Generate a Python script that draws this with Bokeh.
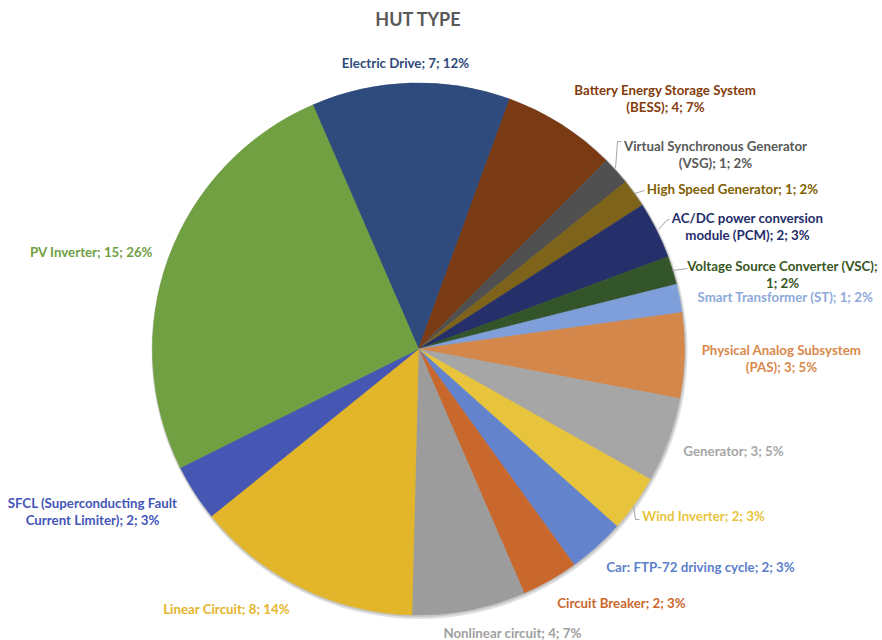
import math
from bokeh.plotting import figure
from bokeh.models import ColumnDataSource
from bokeh.core.properties import value
from bokeh.embed import file_html
from bokeh.resources import INLINE

# ---------------- data ----------------
categories = [
    "Electric Drive",
    "Battery Energy Storage System (BESS)",
    "Virtual Synchronous Generator (VSG)",
    "High Speed Generator",
    "AC/DC power conversion module (PCM)",
    "Voltage Source Converter (VSC)",
    "Smart Transformer (ST)",
    "Physical Analog Subsystem (PAS)",
    "Generator",
    "Wind Inverter",
    "Car: FTP-72 driving cycle",
    "Circuit Breaker",
    "Nonlinear circuit",
    "Linear Circuit",
    "SFCL (Superconducting Fault Current Limiter)",
    "PV Inverter",
]
counts = [7, 4, 1, 1, 2, 1, 1, 3, 3, 2, 2, 2, 4, 8, 2, 15]
title_text = "HUT TYPE"

# ---------------- styles / layout ----------------
colors = [
    "#2F4A7C", "#7A3A14", "#505050", "#7E631B", "#25306A", "#34552A",
    "#7F9FDA", "#D4874B", "#A6A6A6", "#E8C43C", "#6384CC", "#C9682D",
    "#9C9C9C", "#E2B52A", "#4556B3", "#70A041",
]
label_colors = [
    "#2F4A7C", "#843C0C", "#595959", "#7F6000", "#1F2D6A", "#375623",
    "#8EA9DB", "#D9894C", "#A6A6A6", "#E8C43C", "#5B7FCC", "#C9682D",
    "#A0A0A0", "#E3B52B", "#4456B8", "#70A044",
]
# words on first line (0 = single line)
label_break = [0, 4, 3, 0, 3, 4, 0, 3, 0, 0, 0, 0, 0, 0, 3, 0]
# label centre positions in page pixels (x, y of first line)
label_pos = [
    (405, 62), (665, 89), (715, 145), (732, 188), (747, 217), (782, 265),
    (785, 296), (781, 349), (733, 450), (703, 515), (700, 566), (621, 602),
    (512, 632), (226, 608), (92, 502), (91, 251),
]
line_gap = 17
# leader lines in page pixels
leaders = [
    [(621, 141), (617, 141), (615, 168)],
    [(644, 190), (634, 193)],
    [(669, 219), (666, 220), (658, 229)],
    [(672, 270), (687, 268)],
    [(639, 519), (635, 519), (633, 505)],
]

W, H = 882, 640
CX, CY, R = 418, 348.5, 266
START_DEG = -23.4  # clockwise from 12 o'clock


def px(x):
    return x


def py(y):
    return H - y


p = figure(width=W, height=H, x_range=(0, W), y_range=(0, H),
           output_backend="svg", toolbar_location=None, min_border=0)
p.axis.visible = False
p.grid.visible = False
p.outline_line_color = None
p.background_fill_color = "white"

total = sum(counts)
starts, ends = [], []
cum = 0
for c in counts:
    a0 = START_DEG + cum / total * 360
    cum += c
    a1 = START_DEG + cum / total * 360
    # convert clockwise-from-top to math angle (counterclockwise from +x)
    starts.append(math.radians(90 - a1))
    ends.append(math.radians(90 - a0))

# soft shadow
p.circle(x=[px(CX) + 1], y=[py(CY) - 2], radius=R + 2, radius_units="screen",
         fill_color="#000000", fill_alpha=0.12, line_color=None)
p.circle(x=[px(CX) + 0.5], y=[py(CY) - 1], radius=R + 1, radius_units="screen",
         fill_color="#000000", fill_alpha=0.12, line_color=None)

src = ColumnDataSource(dict(
    x=[px(CX)] * len(counts), y=[py(CY)] * len(counts),
    start=starts, end=ends, color=colors,
))
p.wedge(x="x", y="y", radius=R, radius_units="screen",
        start_angle="start", end_angle="end",
        fill_color="color", line_color="color", line_width=0.6, source=src)

# leader lines
for pts in leaders:
    p.line([px(a) for a, b in pts], [py(b) for a, b in pts],
           line_color="#A6A6A6", line_width=1)

# labels
tx, ty, tt, tc = [], [], [], []
for i, cat in enumerate(categories):
    pct = round(counts[i] / total * 100)
    full = f"{cat}; {counts[i]}; {pct}%"
    words = full.split(" ")
    if label_break[i]:
        lines = [" ".join(words[:label_break[i]]), " ".join(words[label_break[i]:])]
    else:
        lines = [full]
    x0, y0 = label_pos[i]
    for k, ln in enumerate(lines):
        tx.append(px(x0))
        ty.append(py(y0 + k * line_gap))
        tt.append(ln)
        tc.append(label_colors[i])

lsrc = ColumnDataSource(dict(x=tx, y=ty, text=tt, color=tc))
p.text(x="x", y="y", text="text", text_color="color", source=lsrc,
       text_font=value("Lato"), text_font_style="bold",
       text_font_size="13.3px", text_align="center", text_baseline="middle")

p.text(x=[px(418)], y=[py(18)], text=[title_text], text_color="#595959",
       text_font=value("Lato"), text_font_style="bold", text_font_size="18px",
       text_align="center", text_baseline="middle")

open("out.html", "w").write(file_html(p, INLINE))
